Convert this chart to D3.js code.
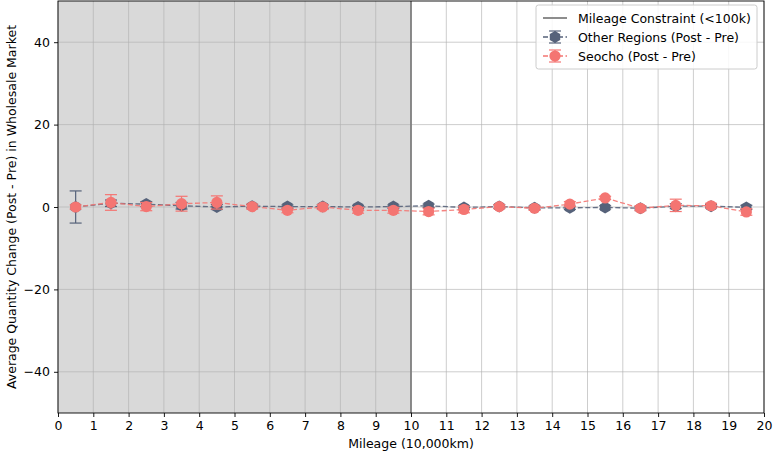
<!DOCTYPE html>
<html>
<head>
<meta charset="utf-8">
<script src="https://cdn.jsdelivr.net/npm/d3@7"></script>
<style>
  html, body { margin: 0; padding: 0; background: #fff; }
  svg { display: block; font-family: "DejaVu Sans", sans-serif; }
</style>
</head>
<body>
<svg id="chart" width="773" height="453"></svg>
<script>
// Mileage bins (centres, in 10,000 km)
const mileage = [0.5, 1.5, 2.5, 3.5, 4.5, 5.5, 6.5, 7.5, 8.5, 9.5,
                 10.5, 11.5, 12.5, 13.5, 14.5, 15.5, 16.5, 17.5, 18.5, 19.5];

// Other regions: mean change (Post - Pre) and error
const otherMean = [0.0, 0.9, 0.7, 0.3, 0.0, 0.2, 0.1, 0.1, 0.0, 0.1,
                   0.3, -0.1, 0.1, -0.2, -0.2, -0.1, -0.3, 0.2, 0.2, -0.1];
const otherErr  = [3.9, 0.8, 0.6, 0.8, 0.6, 0.4, 0.4, 0.4, 0.4, 0.4,
                   0.4, 0.4, 0.4, 0.4, 0.4, 0.4, 0.4, 0.6, 0.4, 0.5];

// Seocho: mean change (Post - Pre) and error
const seochoMean = [0.0, 1.1, 0.1, 0.8, 1.1, 0.1, -0.8, 0.0, -0.8, -0.8,
                    -1.1, -0.6, 0.1, -0.3, 0.7, 2.2, -0.3, 0.4, 0.3, -1.2];
const seochoErr  = [0.5, 1.9, 1.0, 1.8, 1.6, 0.6, 0.6, 0.6, 0.7, 0.7,
                    0.8, 0.8, 0.5, 0.5, 0.6, 0.4, 0.6, 1.5, 0.6, 0.8];

const xTicks = d3.range(0, 21, 1);
const yTicks = [-40, -20, 0, 20, 40];
const mileageLimit = 10;

const svg = d3.select("#chart");
const margin = { left: 58, right: 9, top: 1, bottom: 40 };
const W = 773, H = 453;
const FS = 12.5;
const x = d3.scaleLinear().domain([0, 20]).range([margin.left, W - margin.right]);
const y = d3.scaleLinear().domain([-50, 50]).range([H - margin.bottom, margin.top]);

const grey = "#56627a";
const coral = "#f47572";

// shaded constrained-mileage span
svg.append("rect")
  .attr("x", x(0)).attr("y", y(50))
  .attr("width", x(mileageLimit) - x(0))
  .attr("height", y(-50) - y(50))
  .attr("fill", "#d9d9d9");

// grid
const grid = svg.append("g").attr("stroke", "#b0b0b0").attr("stroke-width", 0.8).attr("stroke-opacity", 0.8);
grid.selectAll("line.gx").data(xTicks).join("line")
  .attr("x1", d => x(d)).attr("x2", d => x(d))
  .attr("y1", y(50)).attr("y2", y(-50));
grid.selectAll("line.gy").data(yTicks).join("line")
  .attr("x1", x(0)).attr("x2", x(20))
  .attr("y1", d => y(d)).attr("y2", d => y(d));

// mileage constraint line
svg.append("line")
  .attr("x1", x(mileageLimit)).attr("x2", x(mileageLimit))
  .attr("y1", y(50)).attr("y2", y(-50))
  .attr("stroke", "#808080").attr("stroke-width", 1.8);

function drawSeries(means, errs, color, marker) {
  const g = svg.append("g");
  const pts = mileage.map((m, i) => ({ x: m, y: means[i], e: errs[i] }));
  // error bars
  const eb = g.selectAll("g.eb").data(pts).join("g")
    .attr("stroke", color).attr("stroke-width", 1.2);
  eb.append("line")
    .attr("x1", d => x(d.x)).attr("x2", d => x(d.x))
    .attr("y1", d => y(d.y - d.e)).attr("y2", d => y(d.y + d.e));
  [1, -1].forEach(s => {
    eb.append("line")
      .attr("x1", d => x(d.x) - 6).attr("x2", d => x(d.x) + 6)
      .attr("y1", d => y(d.y + s * d.e)).attr("y2", d => y(d.y + s * d.e));
  });
  // dashed connecting line
  g.append("path")
    .datum(pts)
    .attr("fill", "none").attr("stroke", color).attr("stroke-width", 1.3)
    .attr("stroke-dasharray", "5,2.5").attr("stroke-opacity", 0.9)
    .attr("d", d3.line().x(d => x(d.x)).y(d => y(d.y)));
  // markers
  g.selectAll("path.m").data(pts).join("path")
    .attr("transform", d => `translate(${x(d.x)},${y(d.y)})`)
    .attr("d", marker)
    .attr("fill", color);
}

const hexagon = (() => {
  const r = 6;
  const pts = d3.range(6).map(k => {
    const a = -Math.PI / 2 + k * Math.PI / 3;
    return [r * Math.cos(a), r * Math.sin(a)];
  });
  return "M" + pts.map(p => p.join(",")).join("L") + "Z";
})();
const circle = d3.symbol().type(d3.symbolCircle).size(Math.PI * 5.6 * 5.6)();

drawSeries(otherMean, otherErr, grey, hexagon);
drawSeries(seochoMean, seochoErr, coral, circle);

// axes
const xAxis = d3.axisBottom(x).tickValues(xTicks).tickSize(4).tickPadding(4).tickFormat(d3.format("d"));
const yAxis = d3.axisLeft(y).tickValues(yTicks).tickSize(4).tickPadding(4)
  .tickFormat(d => d < 0 ? "\u2212" + Math.abs(d) : d);
const gx = svg.append("g").attr("transform", `translate(0,${y(-50)})`).call(xAxis);
const gy = svg.append("g").attr("transform", `translate(${x(0)},0)`).call(yAxis);
[gx, gy].forEach(g => {
  g.select(".domain").remove();
  g.selectAll("text").attr("font-size", FS).attr("font-family", "DejaVu Sans, sans-serif").attr("fill", "#000");
  g.selectAll("line").attr("stroke", "#000").attr("stroke-width", 0.9);
});

// frame
svg.append("rect")
  .attr("x", x(0)).attr("y", y(50))
  .attr("width", x(20) - x(0)).attr("height", y(-50) - y(50))
  .attr("fill", "none").attr("stroke", "#000").attr("stroke-width", 0.9);

// axis titles
svg.append("text")
  .attr("x", (x(0) + x(20)) / 2).attr("y", 448)
  .attr("text-anchor", "middle").attr("font-size", FS)
  .text("Mileage (10,000km)");
svg.append("text")
  .attr("transform", `translate(16,${(y(50) + y(-50)) / 2}) rotate(-90)`)
  .attr("text-anchor", "middle").attr("font-size", FS)
  .text("Average Quantity Change (Post - Pre) in Wholesale Market");

// legend
const lg = svg.append("g").attr("transform", "translate(536,5)");
lg.append("rect").attr("width", 221).attr("height", 64).attr("rx", 2.5)
  .attr("fill", "#fff").attr("fill-opacity", 0.85).attr("stroke", "#cccccc");
const items = [
  { label: "Mileage Constraint (<100k)", kind: "line" },
  { label: "Other Regions (Post - Pre)", kind: "series", color: grey, marker: hexagon },
  { label: "Seocho (Post - Pre)", kind: "series", color: coral, marker: circle }
];
items.forEach((it, i) => {
  const cy = 13 + i * 19;
  const g = lg.append("g").attr("transform", `translate(0,${cy})`);
  if (it.kind === "line") {
    g.append("line").attr("x1", 7).attr("x2", 31).attr("stroke", "#808080").attr("stroke-width", 1.8);
  } else {
    g.append("line").attr("x1", 7).attr("x2", 31).attr("stroke", it.color)
      .attr("stroke-width", 1.3).attr("stroke-dasharray", "5,2.5");
    g.append("line").attr("x1", 19).attr("x2", 19).attr("y1", -6).attr("y2", 6)
      .attr("stroke", it.color).attr("stroke-width", 1.2);
    [-6, 6].forEach(yy => g.append("line").attr("x1", 13).attr("x2", 25).attr("y1", yy).attr("y2", yy)
      .attr("stroke", it.color).attr("stroke-width", 1.2));
    g.append("path").attr("transform", "translate(19,0)").attr("d", it.marker).attr("fill", it.color);
  }
  g.append("text").attr("x", 42).attr("y", 4.5).attr("font-size", FS).text(it.label);
});
</script>
</body>
</html>
